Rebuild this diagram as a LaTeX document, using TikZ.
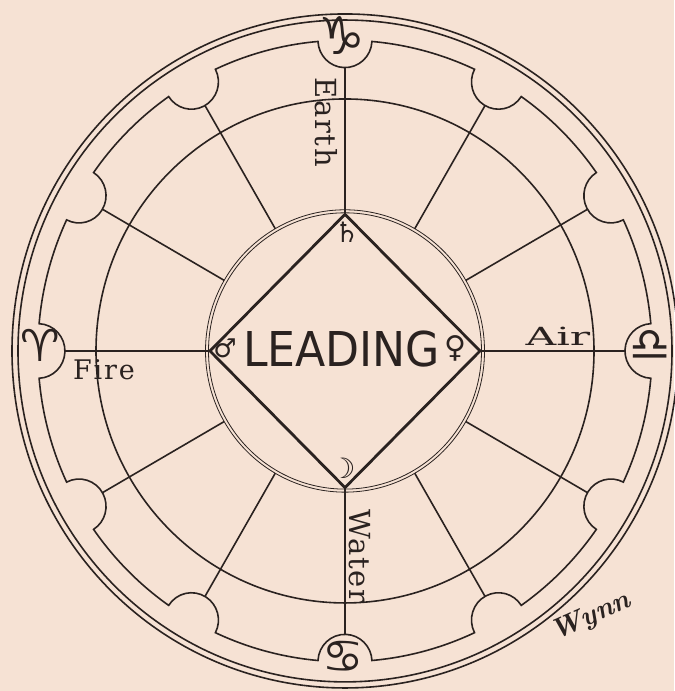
\documentclass[tikz,border=0pt]{standalone}
\usepackage{fontspec}
\usepackage{tikz}
\newfontfamily\glyphfont{DejaVu Sans}
\newfontfamily\letterfont{DejaVu Serif}
\definecolor{paper}{HTML}{F6E2D4}
\definecolor{ink}{HTML}{2A2220}

\begin{document}
\begin{tikzpicture}[
    x=1pt, y=1.012pt,
    ring/.style={draw=ink, line width=1.6pt},
    fine/.style={draw=ink, line width=0.8pt},
    spoke/.style={draw=ink, line width=1.6pt},
    axis/.style={draw=ink, line width=2.8pt, line join=miter},
    elem/.style={text=ink, inner sep=0pt,
                 font=\letterfont\fontsize{29}{29}\selectfont},
    sign/.style={text=ink, inner sep=0pt,
                 font=\glyphfont\fontsize{46}{46}\selectfont},
    planet/.style={text=ink, inner sep=0pt,
                   font=\glyphfont\fontsize{28}{28}\selectfont},
  ]
    % paper
    \fill[paper] (-345,-336) rectangle (329,346.8);
    \useasboundingbox (-345,-336) rectangle (329,346.8);

    % outer double rim
    \draw[ring] (0,0) circle[radius=333];
    \draw[ring] (0,0) circle[radius=327];

    % scalloped ring, a notch every 30 degrees
    \pgfmathsetmacro{\dl}{2*asin(27/614)}
    \draw[ring] (\dl:307) \foreach \k in {0,...,11}{
        arc[start angle=30*\k+\dl, end angle=30*\k+30-\dl, radius=307]
        arc[start angle=30*\k-60-\dl/2, end angle=30*\k-240+\dl/2, radius=27]
      } -- cycle;

    % middle ring and central double circle
    \draw[ring] (0,0) circle[radius=249];
    \draw[fine] (0,0) circle[radius=136.5];
    \draw[fine] (0,0) circle[radius=139.5];

    % diamond corners and notch floors
    \coordinate (vE) at (0:135);
    \coordinate (vN) at (90:135);
    \coordinate (vW) at (180:135);
    \coordinate (vS) at (270:135);
    \coordinate (nE) at (0:280);
    \coordinate (nN) at (90:280);
    \coordinate (nW) at (180:280);
    \coordinate (nS) at (270:280);

    % spokes
    \foreach \a in {30,60,120,150,210,240,300,330}{
      \coordinate (si\a) at (\a:139.5);
      \coordinate (so\a) at (\a:280);
      \draw[spoke] (si\a) -- (so\a);
    }

    % axes and diamond
    \draw[axis] (vE) -- (nE);
    \draw[axis] (vN) -- (nN);
    \draw[axis] (vW) -- (nW);
    \draw[axis] (vS) -- (nS);
    \draw[axis] (vE) -- (vN) -- (vW) -- (vS) -- cycle;

    % elements
    \node[elem, rotate=-90] (earth) at (-19,226)
      {\addfontfeature{LetterSpace=6}Earth};
    \node[elem, rotate=-90] (water) at (15,-203)
      {\addfontfeature{LetterSpace=5}Water};
    \node[elem, font=\letterfont\fontsize{27}{27}\selectfont] (fire) at (-241,-19)
      {\addfontfeature{LetterSpace=7}Fire};
    \node[elem, font=\letterfont\fontsize{25}{25}\selectfont, xscale=1.7] (air) at (213,14)
      {Air};

    % signs in the notches
    \node[sign, font=\glyphfont\fontsize{52}{52}\selectfont] (cap) at (-3,312) {♑};
    \node[sign, font=\glyphfont\fontsize{44}{44}\selectfont] (ari) at (-305,5) {♈};
    \node[sign] (lib) at (305,5) {♎};
    \node[sign] (can) at (-2,-302) {♋};

    % planets at the corners
    \node[planet] (sat) at (2,117.6) {♄};
    \node[planet, font=\glyphfont\fontsize{26}{26}\selectfont] (mar) at (-120,3) {♂};
    \node[planet, font=\glyphfont\fontsize{30}{30}\selectfont] (ven) at (110,3) {♀};
    \node[planet] (moo) at (-2,-116) {☽};

    \node[text=ink, inner sep=0pt, xscale=0.92,
          font=\glyphfont\fontsize{48}{48}\selectfont] (lead) at (-3.5,1.5) {LEADING};

    % signature
    \node[text=ink, inner sep=0pt, rotate=24,
          font=\fontsize{28}{28}\selectfont\bfseries\itshape] (wynn) at (246,-263) {Wynn};
  \end{tikzpicture}
\end{document}
